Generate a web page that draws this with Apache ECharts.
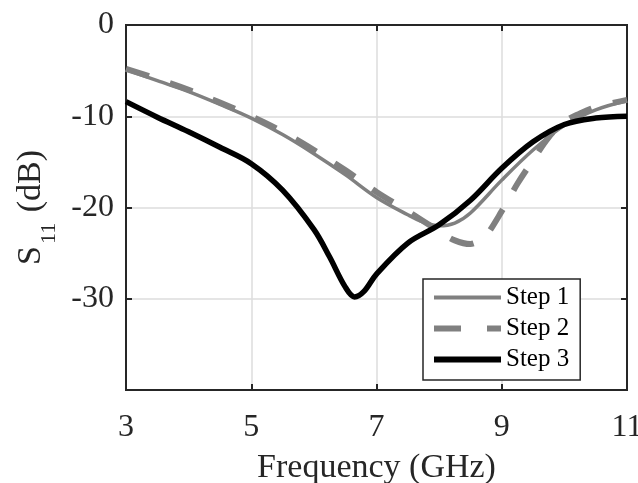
<!DOCTYPE html>
<html>
<head>
<meta charset="utf-8">
<script src="https://cdn.jsdelivr.net/npm/echarts@6/dist/echarts.min.js"></script>
<style>
  html, body { margin: 0; padding: 0; background: #fff; }
  #chart { width: 638px; height: 483px; }
</style>
</head>
<body>
<div id="chart"></div>
<script>
// values
var step1Freq = [3, 3.5, 4, 4.5, 5, 5.5, 6, 6.5, 7, 7.5, 7.75, 8, 8.25, 8.5, 9, 9.5, 10, 10.5, 11];
var step1Db   = [-4.9, -6.1, -7.3, -8.7, -10.2, -12.0, -14.1, -16.4, -18.9, -20.8, -21.6, -22.0, -21.7, -20.6, -17.0, -13.7, -11.0, -9.3, -8.3];

var step2Freq = [3, 3.5, 4, 4.5, 5, 5.5, 6, 6.5, 7, 7.5, 8, 8.25, 8.5, 8.65, 8.75, 9, 9.25, 9.5, 9.75, 10, 10.25, 10.5, 11];
var step2Db   = [-4.8, -5.9, -7.1, -8.5, -10.0, -11.7, -13.7, -15.9, -18.3, -20.4, -22.6, -23.6, -24.0, -23.6, -23.1, -20.4, -17.4, -14.8, -12.3, -10.6, -9.7, -9.0, -8.2];

var step3Freq = [3, 3.5, 4, 4.5, 5, 5.5, 6, 6.25, 6.5, 6.65, 6.8, 7, 7.5, 8, 8.5, 9, 9.5, 10, 10.5, 11];
var step3Db   = [-8.4, -10.1, -11.7, -13.4, -15.2, -18.1, -22.4, -25.4, -28.7, -29.8, -29.2, -27.3, -23.9, -21.9, -19.2, -15.7, -12.8, -10.9, -10.2, -10.0];

var seriesNames = ['Step 1', 'Step 2', 'Step 3'];
var xTicks = [3, 5, 7, 9, 11];
var yTicks = [0, -10, -20, -30];

function pairs(xs, ys) {
    return xs.map(function (x, i) { return [x, ys[i]]; });
}

var font = 'Liberation Serif';
var ink = '#262626';
var grey = '#808080';

// legend swatches: bare line segments, the stray points only fix the box
var solidIcon = 'path://M0,0L0,0M0,6H67V10H0ZM67,16L67,16';
var dashIcon = 'path://M0,0L0,0M0,5H27V11H0ZM53,5H67V11H53ZM67,16L67,16';
var thickIcon = 'path://M0,0L0,0M0,5H67V11H0ZM67,16L67,16';

var chart = echarts.init(document.getElementById('chart'));

chart.setOption({
    animation: false,
    textStyle: { fontFamily: font },
    grid: {
        left: 126, right: 11, top: 25, bottom: 93,
        outerBoundsMode: 'none',
        show: true, borderColor: ink, borderWidth: 2, backgroundColor: '#fff'
    },
    legend: {
        orient: 'vertical',
        left: 423,
        top: 279,
        data: [
            { name: seriesNames[0], icon: solidIcon },
            { name: seriesNames[1], icon: dashIcon },
            { name: seriesNames[2], icon: thickIcon }
        ],
        backgroundColor: '#fff',
        borderColor: ink,
        borderWidth: 1.5,
        borderRadius: 0,
        padding: [6, 11, 8, 11],
        itemGap: 6,
        itemWidth: 67,
        itemHeight: 16,
        textStyle: { fontFamily: font, fontSize: 25, color: '#000' }
    },
    xAxis: [{
        type: 'value',
        min: 3, max: 11, interval: 2,
        name: 'Frequency (GHz)',
        nameLocation: 'middle',
        nameGap: 61,
        nameTextStyle: { fontFamily: font, fontSize: 34, color: ink },
        axisLine: { show: true, onZero: false, lineStyle: { color: ink, width: 2 } },
        axisTick: { show: true, inside: true, length: 6, lineStyle: { color: ink, width: 2 } },
        axisLabel: {
            margin: 22, fontFamily: font, fontSize: 32, color: ink,
            formatter: function (v) { return xTicks.indexOf(v) >= 0 ? String(v) : ''; }
        },
        splitLine: { show: true, lineStyle: { color: '#dcdcdc', width: 1.5 } }
    }, {
        type: 'value',
        position: 'top',
        min: 3, max: 11, interval: 2,
        axisLine: { show: true, lineStyle: { color: ink, width: 2 } },
        axisTick: { show: true, inside: true, length: 6, lineStyle: { color: ink, width: 2 } },
        axisLabel: { show: false },
        splitLine: { show: false }
    }],
    yAxis: [{
        type: 'value',
        min: -40, max: 0, interval: 10,
        name: '{s|S}{sub|11}{s| (dB)}',
        nameLocation: 'middle',
        nameGap: 69,
        nameRotate: 90,
        nameTextStyle: {
            fontFamily: font, color: ink,
            rich: {
                s: { fontFamily: font, fontSize: 34, color: ink, lineHeight: 34, verticalAlign: 'top' },
                sub: { fontFamily: font, fontSize: 22, color: ink, lineHeight: 22, verticalAlign: 'top', padding: [24, 2, 0, 2] }
            }
        },
        axisLine: { show: true, onZero: false, lineStyle: { color: ink, width: 2 } },
        axisTick: { show: true, inside: true, length: 6, lineStyle: { color: ink, width: 2 } },
        axisLabel: {
            margin: 12, fontFamily: font, fontSize: 32, color: ink,
            formatter: function (v) { return yTicks.indexOf(v) >= 0 ? String(v) : ''; }
        },
        splitLine: { show: true, lineStyle: { color: '#dcdcdc', width: 1.5 } }
    }, {
        type: 'value',
        position: 'right',
        min: -40, max: 0, interval: 10,
        axisLine: { show: true, lineStyle: { color: ink, width: 2 } },
        axisTick: { show: true, inside: true, length: 6, lineStyle: { color: ink, width: 2 } },
        axisLabel: { show: false },
        splitLine: { show: false }
    }],
    series: [{
        name: 'Step 1',
        type: 'line',
        data: pairs(step1Freq, step1Db),
        smooth: 0.35,
        symbol: 'none',
        z: 3,
        itemStyle: { color: grey },
        lineStyle: { color: grey, width: 3.5 }
    }, {
        name: 'Step 2',
        type: 'line',
        data: pairs(step2Freq, step2Db),
        smooth: 0.35,
        symbol: 'none',
        z: 2,
        itemStyle: { color: grey },
        lineStyle: { color: grey, width: 6, type: [24, 22] }
    }, {
        name: 'Step 3',
        type: 'line',
        data: pairs(step3Freq, step3Db),
        smooth: 0.35,
        symbol: 'none',
        z: 4,
        itemStyle: { color: '#000' },
        lineStyle: { color: '#000', width: 5.5 }
    }]
});
</script>
</body>
</html>
